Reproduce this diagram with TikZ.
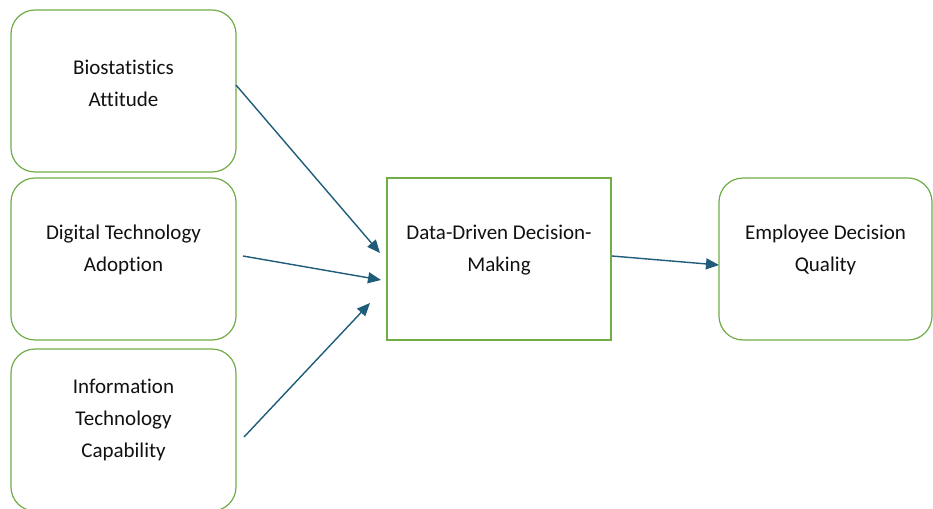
\documentclass[tikz,border=0pt]{standalone}
\usepackage{fontspec}
\setmainfont[Ligatures=NoCommon]{Carlito}
\usetikzlibrary{arrows.meta,calc}
\definecolor{boxgreen}{HTML}{70AD47}
\definecolor{arrowteal}{HTML}{1F5C7A}
\definecolor{txt}{HTML}{111111}
\begin{document}
\begin{tikzpicture}[x=1pt,y=-1pt,
  rbox/.style={draw=boxgreen,line width=1.2pt,rounded corners=24pt,minimum width=225pt,minimum height=162pt,inner sep=0pt},
  sbox/.style={draw=boxgreen,line width=1.2pt,minimum width=224pt,minimum height=162pt,inner sep=0pt},
  lbl/.style={align=center,text=txt,font=\fontsize{21}{32}\selectfont,inner sep=0pt},
  conn/.style={draw=arrowteal,line width=1.4pt,-{Triangle[length=13pt,width=11pt]}}]
\useasboundingbox (0,0) rectangle (933,508);
\fill[white] (0,0) rectangle (933,508);
\node[rbox] (b1) at (123.5,91) {};
\node[rbox] (b2) at (123.5,259) {};
\node[rbox] (b3) at (123.5,430) {};
\node[sbox] (dd) at (499,259) {};
\node[rbox,minimum width=213pt] (eq) at (825.5,259) {};
\node[lbl] (t1) at (123.5,83.5) {Biostatistics\\Attitude};
\node[lbl] (t2) at (123.5,250) {Digital Technology\\Adoption};
\node[lbl] (t3) at (123.5,420) {Information\\Technology\\Capability};
\node[lbl] (tdd) at (499,250) {Data-Driven Decision-\\Making};
\node[lbl] (teq) at (825.5,250) {Employee Decision\\Quality};
\coordinate (a1s) at (236,85);
\coordinate (a1e) at (380,253);
\coordinate (a2s) at (243,256);
\coordinate (a2e) at (381,280);
\coordinate (a3s) at (244,437);
\coordinate (a3e) at (370,303);
\coordinate (a4s) at (612,256);
\coordinate (a4e) at (719,265);
\draw[conn] (a1s) -- (a1e);
\draw[conn] (a2s) -- (a2e);
\draw[conn] (a3s) -- (a3e);
\draw[conn] (a4s) -- (a4e);
\end{tikzpicture}
\end{document}
